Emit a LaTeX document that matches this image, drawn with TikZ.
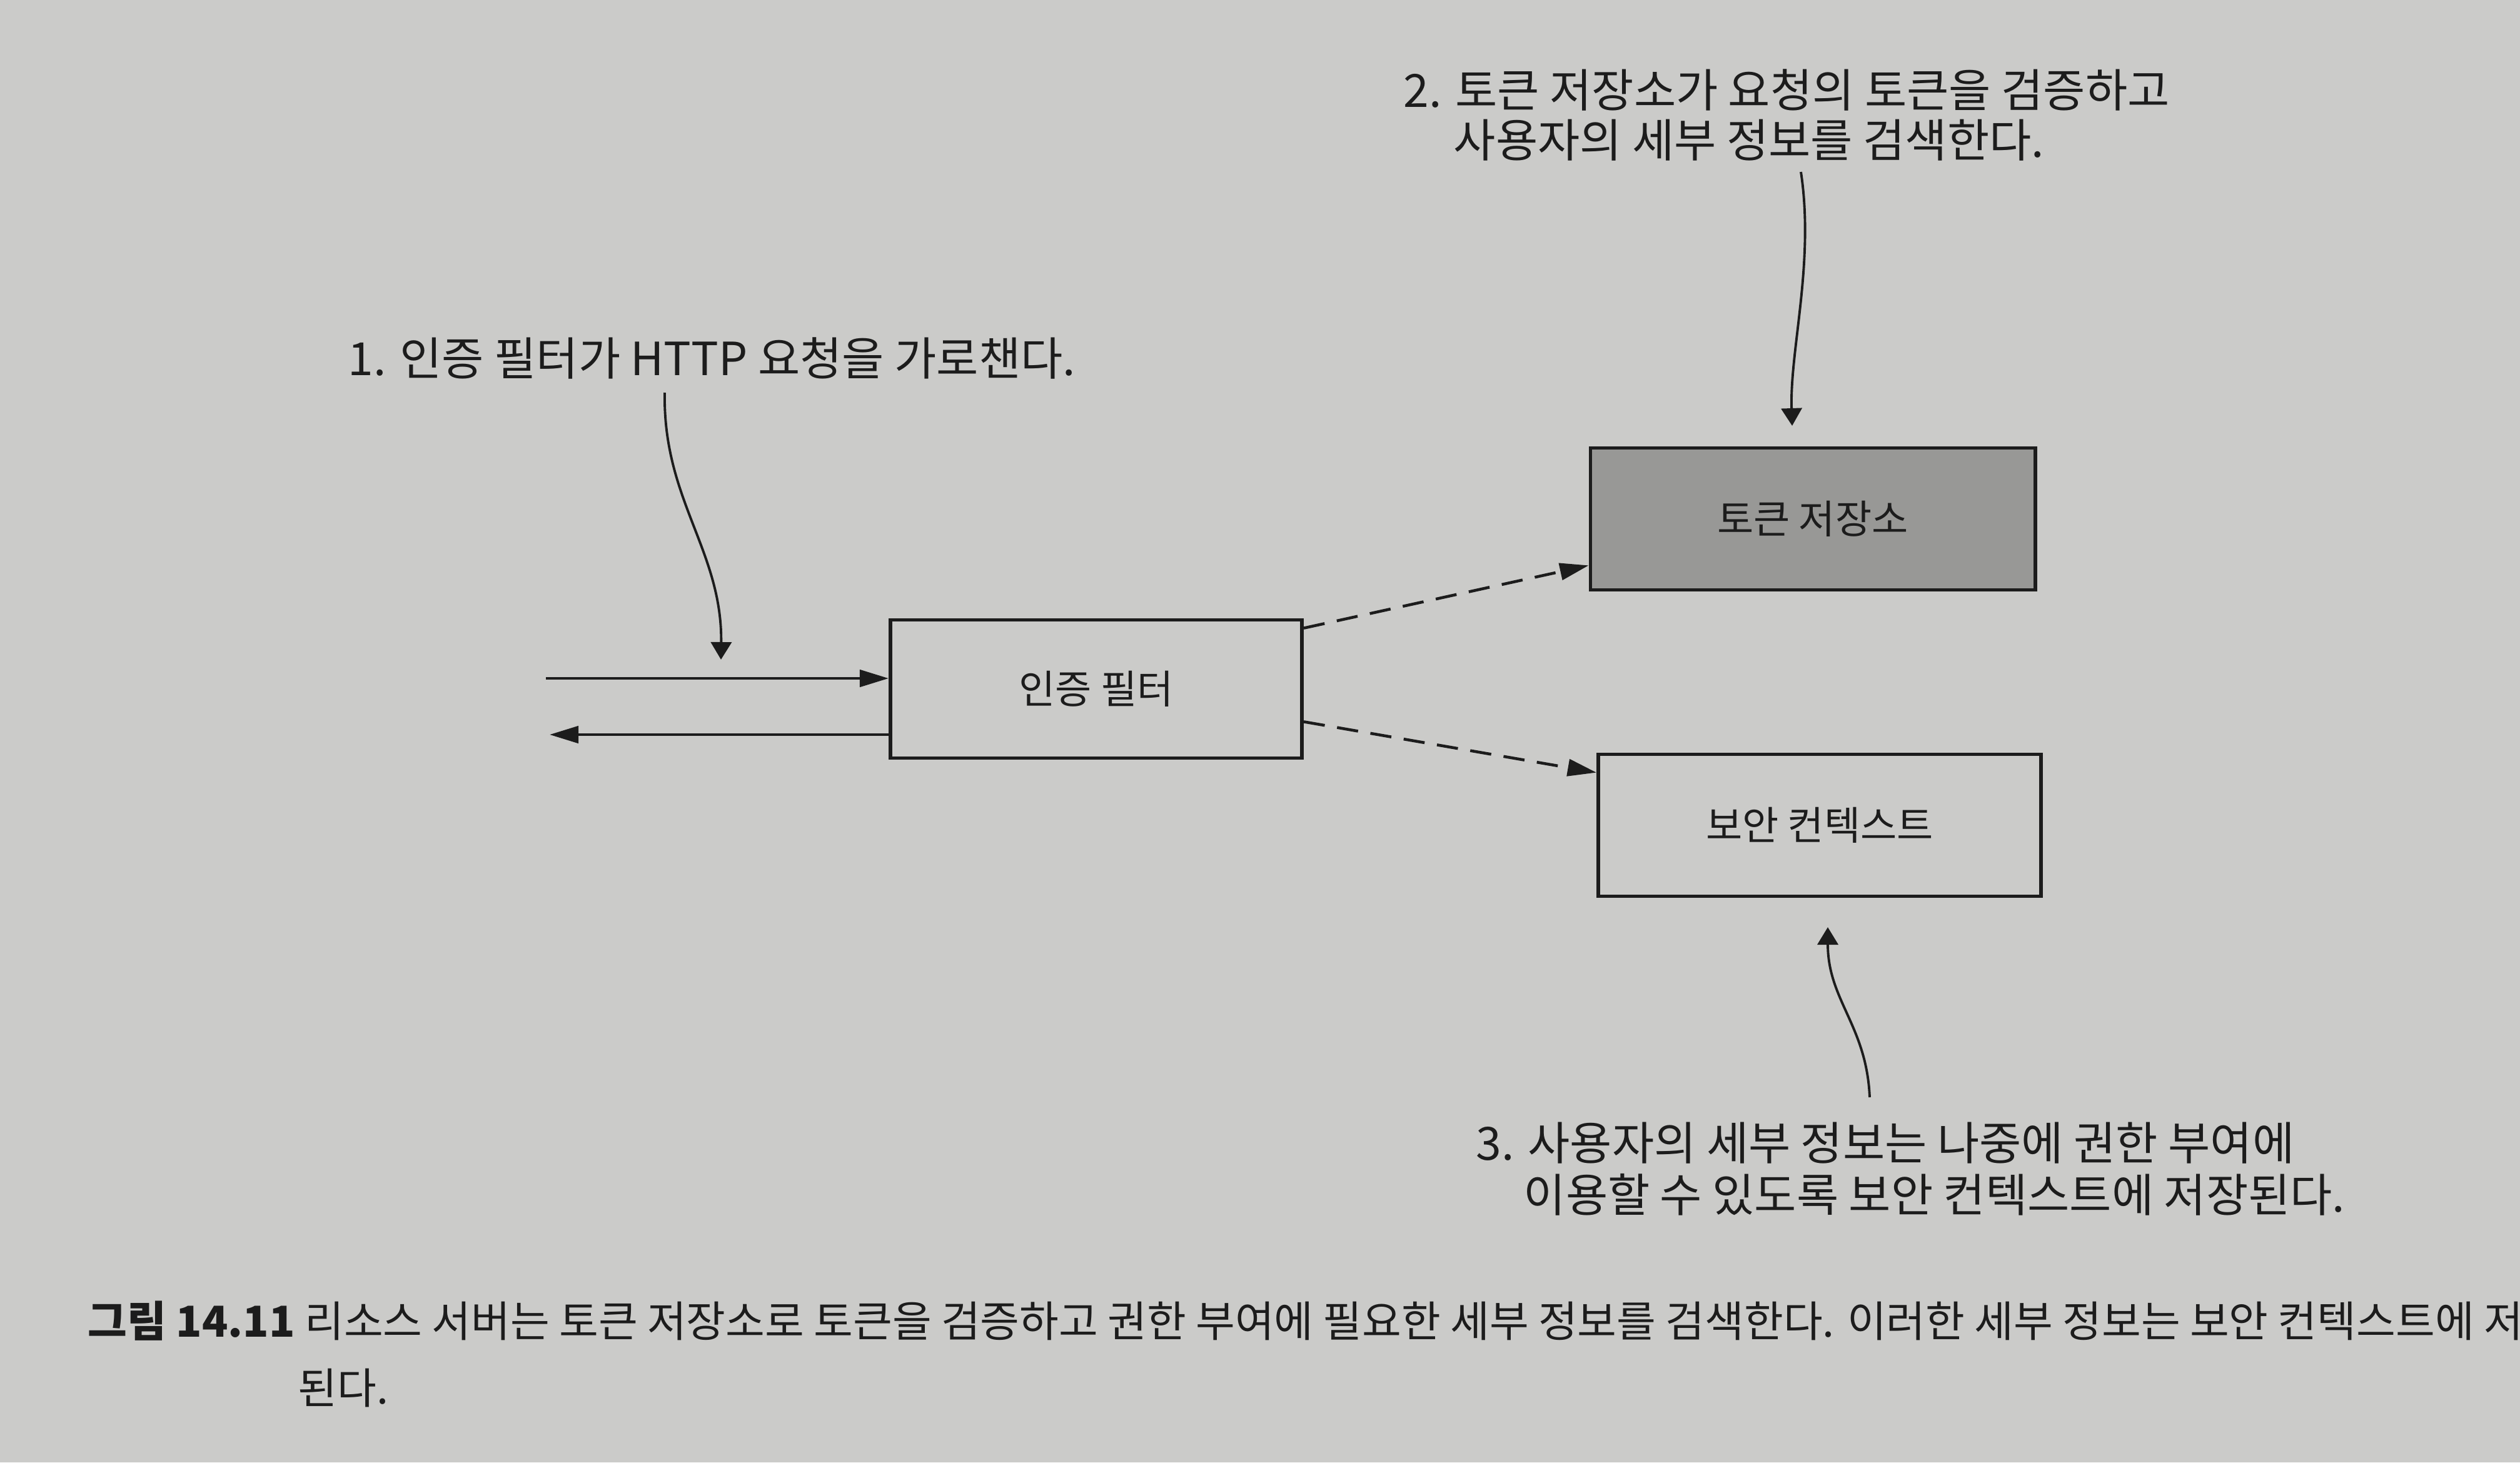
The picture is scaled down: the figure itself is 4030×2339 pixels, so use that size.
\documentclass[tikz,border=0pt]{standalone}
\usepackage{fontspec}
\setmainfont{Noto Sans CJK KR}
\usetikzlibrary{arrows.meta,calc}
\definecolor{paper}{RGB}{203,203,201}
\definecolor{ink}{RGB}{28,28,28}
\definecolor{storegray}{RGB}{152,152,150}
\tikzset{
  box/.style={draw=ink, line width=1.6pt, text=ink, inner sep=0pt,
    font=\fontsize{18}{21}\selectfont},
  flow/.style={draw=ink, line width=1.3pt, -{Triangle[length=0.46cm,width=0.27cm]}},
  dflow/.style={flow, dash pattern=on 0.34cm off 0.2cm},
  note/.style={font=\fontsize{20.8}{25}\selectfont, text=ink, anchor=base west, inner sep=0pt},
  capt/.style={font=\fontsize{19.4}{23}\selectfont, text=ink, anchor=base west, inner sep=0pt},
  pointer/.style={draw=ink, line width=1.1pt, -{Triangle[length=0.28cm,width=0.33cm]}},
}
\begin{document}
\begin{tikzpicture}[x=0.01cm,y=-0.01cm]
\clip (0,0) rectangle (4030,2339);
\fill[paper] (0,0) rectangle (4030,2339);

% boxes
\node[box, minimum width=6.58cm, minimum height=2.21cm] (filter) at (1753,1102) {인증 필터};
\node[box, fill=storegray, minimum width=7.11cm, minimum height=2.27cm] (store) at (2899,830) {토큰 저장소};
\node[box, minimum width=7.08cm, minimum height=2.27cm] (ctx) at (2910,1320) {보안 컨텍스트};

% request / response
\coordinate (in1) at (873,1085);
\coordinate (out1) at (879,1175);
\draw[flow] (in1) -- (in1 -| filter.west);
\draw[flow] (out1 -| filter.west) -- (out1);

% dashed connectors
\draw[dflow] ($(filter.north east)+(0,16)$) -- ($(store.south west)+(0,-42)$);
\draw[dflow] ($(filter.south east)+(0,-61)$) -- ($(ctx.north west)+(0,32)$);

% annotations
\node[note] (n1) at (556,600) {1. 인증 필터가 HTTP 요청을 가로챈다.};
\node[note] (n2a) at (2244,171) {2. 토큰 저장소가 요청의 토큰을 검증하고};
\node[note] (n2b) at (2324,251) {사용자의 세부 정보를 검색한다.};
\node[note] (n3a) at (2360,1855) {3. 사용자의 세부 정보는 나중에 권한 부여에};
\node[note] (n3b) at (2436,1938) {이용할 수 있도록 보안 컨텍스트에 저장된다.};

% pointers
\coordinate (p1s) at (1063,628);
\coordinate (p1e) at (1153,1055);
\draw[pointer] (p1s) .. controls (1060,800) and (1155,880) .. (p1e);
\coordinate (p2s) at (2880,275);
\coordinate (p2e) at (2866,681);
\draw[pointer] (p2s) .. controls (2902,420) and (2862,560) .. (p2e);
\coordinate (p3s) at (2990,1755);
\coordinate (p3e) at (2923,1483);
\draw[pointer] (p3s) .. controls (2985,1640) and (2923,1600) .. (p3e);

% caption
\node[capt] (cap1) at (140,2138) {\textbf{그림 14.11} 리소스 서버는 토큰 저장소로 토큰을 검증하고 권한 부여에 필요한 세부 정보를 검색한다. 이러한 세부 정보는 보안 컨텍스트에 저};
\node[capt] (cap2) at (476,2245) {된다.};
\end{tikzpicture}
\end{document}
